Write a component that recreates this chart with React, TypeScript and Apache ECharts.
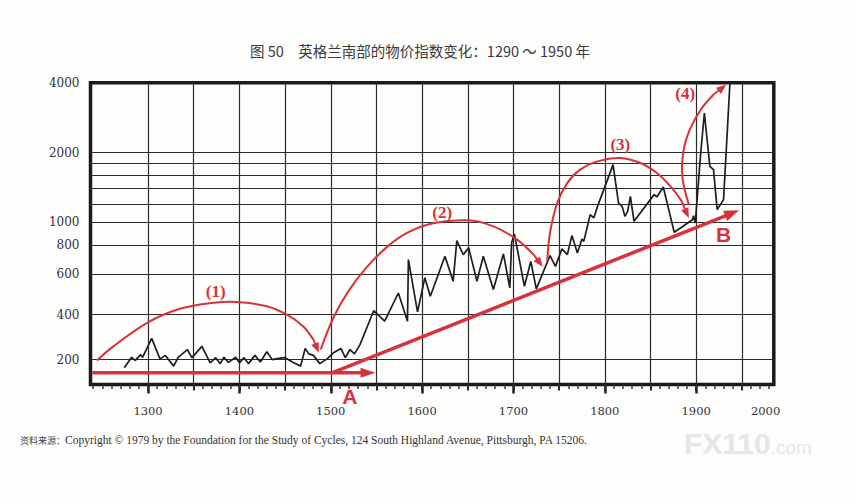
import React, { useEffect, useRef } from 'react';
import * as echarts from 'echarts';

// ---- price index series (year, index) ----
const years = [
  1274, 1282, 1286, 1292, 1294, 1304, 1313, 1319, 1328, 1333, 1343, 1348, 1359, 1368, 1374, 1379,
  1383, 1388, 1396, 1400, 1405, 1410, 1417, 1423, 1430, 1436, 1443, 1450, 1458, 1467, 1472, 1476,
  1481, 1488, 1496, 1503, 1511, 1516, 1521, 1526, 1532, 1547, 1559, 1574, 1584, 1585, 1595, 1603,
  1609, 1625, 1634, 1638, 1645, 1651, 1660, 1667, 1678, 1689, 1696, 1698, 1701, 1712, 1719, 1725,
  1740, 1746, 1753, 1759, 1764, 1770, 1775, 1777, 1784, 1788, 1792, 1803, 1809, 1815, 1819, 1822,
  1825, 1828, 1832, 1854, 1857, 1864, 1876, 1896, 1897, 1899, 1905, 1909, 1915, 1919, 1923, 1930,
  1937,
];
const priceIndex = [
  236, 262, 254, 269, 262, 316, 258, 267, 240, 262, 283, 261, 292, 248, 261, 246,
  262, 249, 262, 248, 261, 246, 267, 250, 277, 256, 259, 261, 250, 240, 286, 271,
  267, 246, 258, 274, 286, 261, 283, 271, 297, 416, 375, 496, 375, 691, 411, 577,
  480, 714, 557, 834, 726, 776, 557, 714, 513, 731, 522, 816, 892, 530, 679, 517,
  719, 646, 768, 726, 877, 738, 848, 828, 1080, 1045, 1172, 1528, 1774, 1213, 1172, 1062,
  1116, 1295, 1011, 1317, 1287, 1421, 906, 1027, 1069, 994, 1992, 2962, 1744, 1687, 1135, 1253,
  4000,
];

// ---- axes ----
const xMin = 1237;
const xMax = 1985;
const xGridYears = [1300, 1350, 1400, 1450, 1500, 1550, 1600, 1650, 1700, 1750, 1800, 1850, 1900, 1950];
const xCenturyTicks = [1300, 1400, 1500, 1600, 1700, 1800, 1900];
const xDecadeTicks = Array.from({ length: 75 }, (_, i) => 1240 + i * 10);
const xLabelYears = [1300, 1400, 1500, 1600, 1700, 1800, 1900, 1976];
const xLabelTexts = ['1300', '1400', '1500', '1600', '1700', '1800', '1900', '2000'];

const yMin = 200;
const yMax = 4000;
const yGridValues = [256, 400, 600, 800, 1000, 1200, 1400, 1600, 1800, 2000];
const yLabelValues = [256, 400, 600, 800, 1000, 2000, 4000];
const yLabelTexts = ['200', '400', '600', '800', '1000', '2000', '4000'];

// ---- red annotations, in (year, index) space ----
const arcOne = [[1244, 254], [1262, 292], [1299, 369], [1335, 424], [1372, 450], [1397, 454], [1430, 435], [1452, 400], [1470, 356], [1481, 312], [1487, 274]];
const arcTwo = [[1489, 283], [1503, 389], [1519, 503], [1539, 638], [1562, 786], [1584, 903], [1612, 992], [1650, 1020], [1678, 961], [1704, 843], [1722, 726], [1732, 643]];
const arcThree = [[1737, 679], [1740, 900], [1748, 1213], [1759, 1479], [1773, 1687], [1792, 1832], [1817, 1895], [1839, 1803], [1857, 1633], [1872, 1429], [1883, 1253], [1892, 1045]];
const arcFour = [[1892, 1192], [1885, 1559], [1886, 2018], [1893, 2509], [1905, 3060], [1919, 3552], [1933, 3922]];
const trendA = [[1239, 225], [1549, 225]];
const trendB = [[1502, 225], [1947, 1127]];

const annotationTexts = ['(1)', '(2)', '(3)', '(4)', 'A', 'B'];
const annotationTextAt = [[1374, 501], [1622, 1098], [1817, 2162], [1888, 3587], [1521, 178], [1930, 886]];

const RED = '#d6333d';
const SERIF = '"DejaVu Serif", serif';

const arrows = [
  { pts: arcOne, width: 2, head: 10, half: 4, smooth: 0.35 },
  { pts: arcTwo, width: 2, head: 10, half: 4, smooth: 0.35 },
  { pts: arcThree, width: 2, head: 10, half: 4, smooth: 0.35 },
  { pts: arcFour, width: 2, head: 10, half: 4, smooth: 0.35 },
  { pts: trendA, width: 3.5, head: 15, half: 5, smooth: 0 },
  { pts: trendB, width: 3.5, head: 15, half: 5.5, smooth: 0 },
];

function nearestText(values: number[], texts: string[], v: number) {
  let best = 0;
  for (let i = 1; i < values.length; i++) {
    if (Math.abs(values[i] - v) < Math.abs(values[best] - v)) best = i;
  }
  return texts[best];
}

export default function App() {
  const ref = useRef<HTMLDivElement>(null);

  useEffect(() => {
    if (!ref.current) return;
    const chart = echarts.init(ref.current, null, { renderer: 'svg' });

    const renderArrow = (params: any, api: any) => {
      const a = arrows[api.value(2)];
      const px = a.pts.map((p: number[]) => api.coord(p));
      const n = px.length;
      const tip = px[n - 1];
      const prev = px[n - 2];
      let dx = tip[0] - prev[0];
      let dy = tip[1] - prev[1];
      const len = Math.hypot(dx, dy) || 1;
      dx /= len;
      dy /= len;
      const base = [tip[0] - dx * a.head, tip[1] - dy * a.head];
      const nx = -dy;
      const ny = dx;
      const linePts = px.slice(0, n - 1).concat([[base[0] + dx, base[1] + dy]]);
      return {
        type: 'group',
        children: [
          {
            type: 'polyline',
            shape: { points: linePts, smooth: a.smooth },
            style: { stroke: RED, lineWidth: a.width, fill: 'none', lineJoin: 'round' },
          },
          {
            type: 'polygon',
            shape: {
              points: [
                tip,
                [base[0] + nx * a.half, base[1] + ny * a.half],
                [base[0] - nx * a.half, base[1] - ny * a.half],
              ],
            },
            style: { fill: RED },
          },
        ],
      };
    };

    const renderLabel = (params: any, api: any) => {
      const i = api.value(2);
      const p = api.coord([api.value(0), api.value(1)]);
      const isLetter = i >= 4;
      return {
        type: 'text',
        x: p[0],
        y: p[1],
        style: {
          text: annotationTexts[i],
          fill: RED,
          fontFamily: isLetter ? '"Liberation Sans", sans-serif' : '"Liberation Serif", serif',
          fontWeight: 'bold',
          fontSize: isLetter ? 21 : 17,
          align: 'center',
          verticalAlign: 'middle',
        },
      };
    };

    const gridLine = { color: '#2b2b2b', width: 1.2 };

    chart.setOption({
      animation: false,
      backgroundColor: '#fdfdfb',
      title: {
        text: '图 50　英格兰南部的物价指数变化：1290 ～ 1950 年',
        left: 245,
        top: 38,
        textStyle: { fontFamily: '"Noto Sans CJK SC", sans-serif', fontSize: 14.5, fontWeight: 'normal', color: '#3a3a3a' },
      },
      grid: {
        left: 90.5,
        top: 82.7,
        right: 81.2,
        bottom: 116.5,
        show: true,
        borderColor: '#1a1a1a',
        borderWidth: 3.5,
        backgroundColor: 'transparent',
      },
      xAxis: [
        {
          type: 'value',
          min: xMin,
          max: xMax,
          position: 'bottom',
          axisLine: { show: false },
          splitLine: { show: true, lineStyle: gridLine },
          axisTick: { show: true, customValues: xGridYears, length: 6, lineStyle: { color: '#222', width: 2 } },
          axisLabel: {
            customValues: xLabelYears,
            formatter: (v: number) => nearestText(xLabelYears, xLabelTexts, v),
            margin: 20,
            fontFamily: SERIF,
            fontSize: 11.5,
            color: '#333',
          },
        },
        {
          type: 'value',
          min: xMin,
          max: xMax,
          position: 'bottom',
          axisLine: { show: false },
          splitLine: { show: false },
          axisLabel: { show: false },
          axisTick: { show: true, customValues: xCenturyTicks, length: 9, lineStyle: { color: '#222', width: 2.5 } },
        },
        {
          type: 'value',
          min: xMin,
          max: xMax,
          position: 'bottom',
          axisLine: { show: false },
          splitLine: { show: false },
          axisLabel: { show: false },
          axisTick: { show: true, customValues: xDecadeTicks, length: 4.5, lineStyle: { color: '#333', width: 1.5 } },
        },
      ],
      yAxis: {
        type: 'log',
        logBase: 10,
        min: yMin,
        max: yMax,
        axisLine: { show: false },
        axisTick: { show: false, customValues: yGridValues },
        splitLine: { show: true, lineStyle: gridLine },
        axisLabel: {
          customValues: yLabelValues,
          formatter: (v: number) => nearestText(yLabelValues, yLabelTexts, v),
          margin: 11,
          fontFamily: SERIF,
          fontSize: 12,
          color: '#333',
        },
      },
      series: [
        {
          type: 'line',
          name: '物价指数',
          data: years.map((y, i) => [y, priceIndex[i]]),
          symbol: 'none',
          clip: true,
          z: 3,
          lineStyle: { color: '#1e1e1e', width: 1.7 },
        },
        {
          type: 'custom',
          name: 'arrows',
          renderItem: renderArrow,
          data: arrows.map((a, i) => [a.pts[0][0], a.pts[0][1], i]),
          encode: { x: 0, y: 1 },
          z: 4,
          silent: true,
        },
        {
          type: 'custom',
          name: 'labels',
          renderItem: renderLabel,
          data: annotationTextAt.map((p, i) => [p[0], p[1], i]),
          encode: { x: 0, y: 1 },
          z: 5,
          silent: true,
        },
      ],
      graphic: [
        {
          type: 'text',
          left: 20,
          top: 434,
          style: {
            text: '{a|资料来源：}{b|Copyright © 1979 by the Foundation for the Study of Cycles, 124 South Highland Avenue, Pittsburgh, PA 15206.}',
            rich: {
              a: { fontFamily: '"Noto Sans CJK SC", sans-serif', fontSize: 9, fill: '#444' },
              b: { fontFamily: '"Liberation Serif", serif', fontSize: 11.5, fill: '#333' },
            },
          },
        },
        {
          type: 'text',
          left: 684,
          top: 428,
          style: {
            text: '{a|FX110}{b|.com}',
            rich: {
              a: { fontFamily: '"Liberation Sans", sans-serif', fontWeight: 'bold', fontSize: 30, fill: '#e6e6e6' },
              b: { fontFamily: '"Liberation Sans", sans-serif', fontSize: 19, fill: '#e6e6e6', padding: [8, 0, 0, 0] },
            },
          },
        },
      ],
    });

    return () => chart.dispose();
  }, []);

  return <div ref={ref} style={{ position: 'fixed', left: 0, top: 0, width: 855, height: 501 }} />;
}
